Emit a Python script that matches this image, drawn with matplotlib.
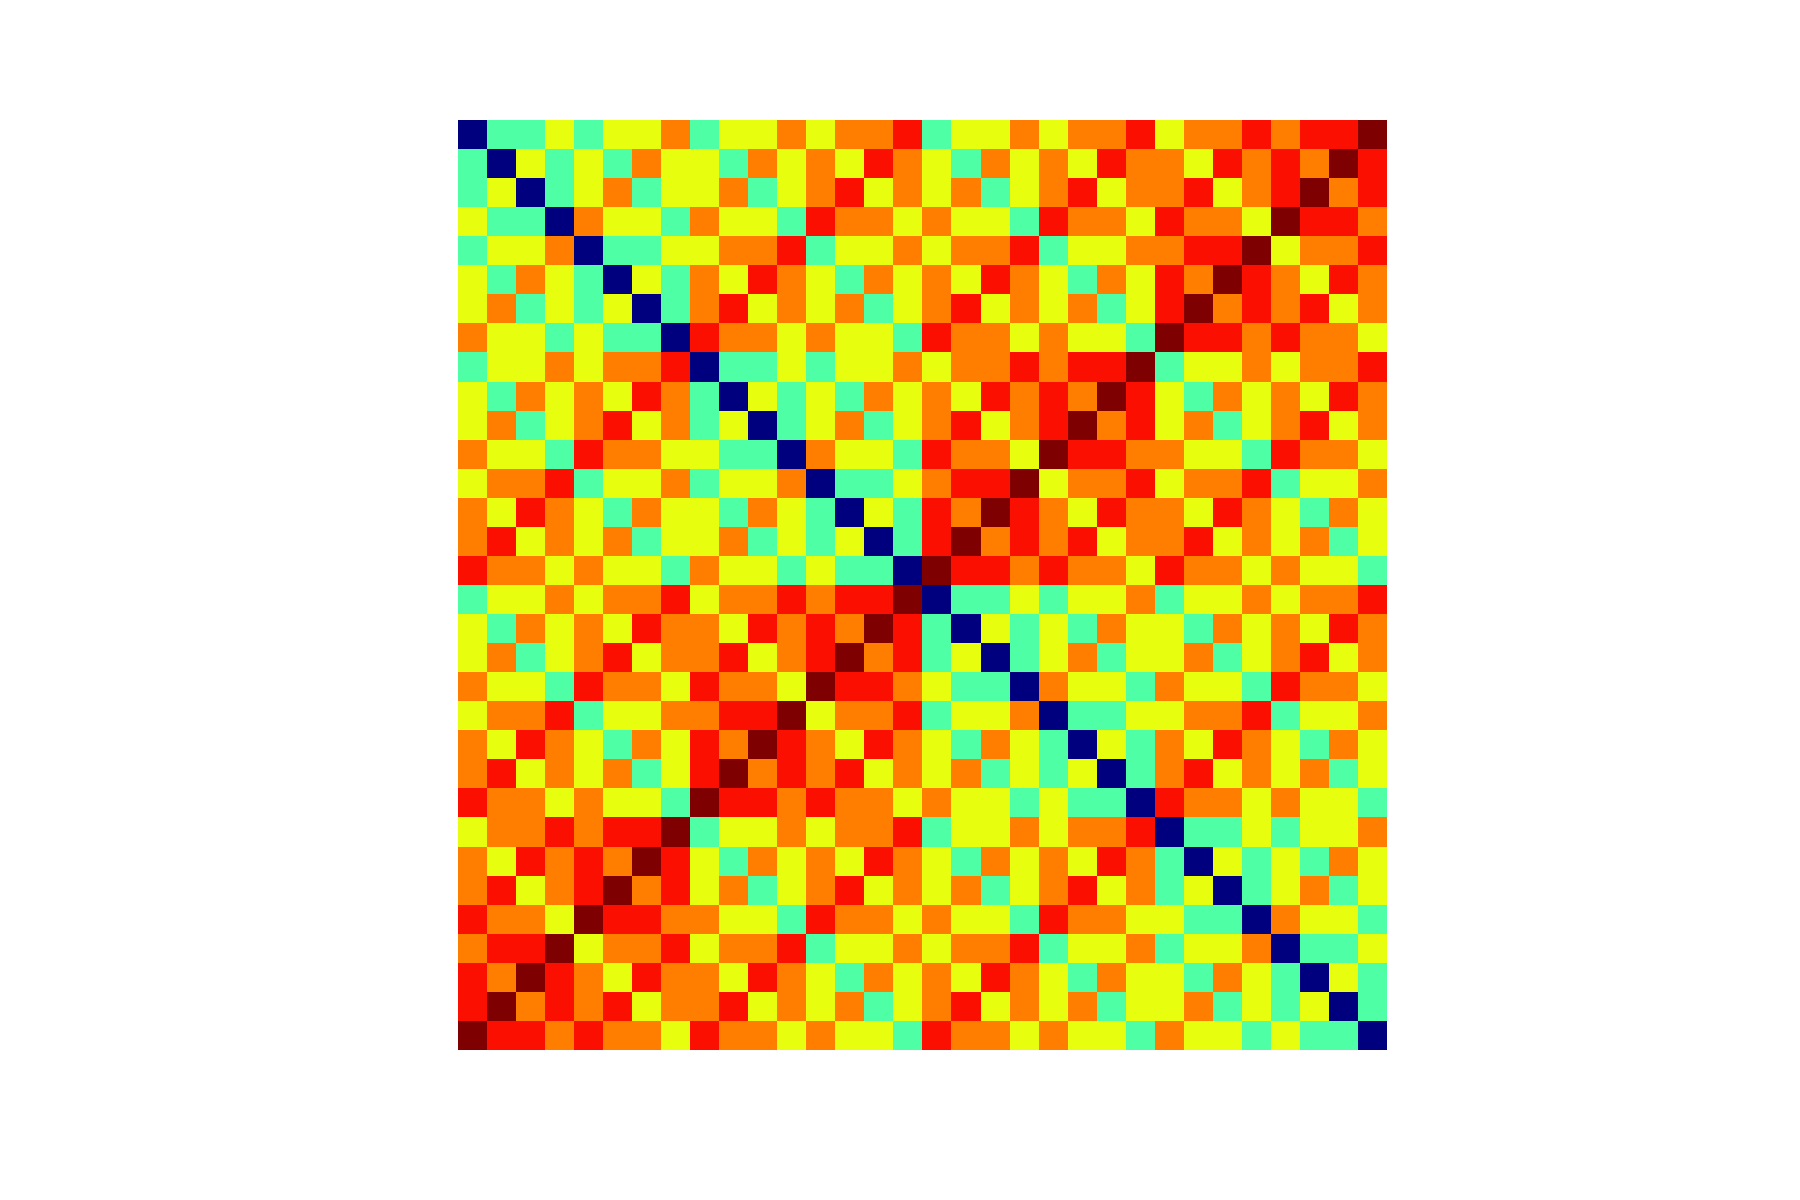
import matplotlib
matplotlib.use("Agg")
import matplotlib.pyplot as plt
import numpy as np

# number of differing bits between row code and column code
rows = [
    "01121223122323341223233423343445",
    "10212132213232432132324332434354",
    "12012312231234232312342334234534",
    "21103221322143323221433243325443",
    "12230112233412232334122334452334",
    "21321021324321323243213243543243",
    "23121201342323123423231245343423",
    "32212110433232214332322154434332",
    "12232334011212232334344512232334",
    "21323243102121323243435421323243",
    "23123423120123123423453423123423",
    "32214332211032214332544332214332",
    "23341223122301123445233423341223",
    "32432132213210214354324332432132",
    "34232312231212014534342334232312",
    "43323221322121105443433243323221",
    "12232334233434450112122312232334",
    "21323243324343541021213221323243",
    "23123423342345341201231223123423",
    "32214332433254432110322132214332",
    "23341223344523341223011223341223",
    "32432132435432432132102132432132",
    "34232312453434232312120134232312",
    "43323221544343323221211043323221",
    "23343445122323341223233401121223",
    "32434354213232432132324310212132",
    "34234534231234232312342312012312",
    "43325443322143323221433221103221",
    "34452334233412232334122312230112",
    "43543243324321323243213221321021",
    "45343423342323123423231223121201",
    "54434332433232214332322132212110",
]

bits = np.array([[int(c) for c in r] for r in rows])
dist = np.sqrt(bits)  # euclidean distance between the binary codes

fig = plt.figure(figsize=(18, 12), dpi=100)
ax = fig.add_axes([458 / 1800, 150 / 1200, 929 / 1800, 930 / 1200])
ax.imshow(dist, cmap="jet", interpolation="nearest", aspect="auto")
ax.axis("off")

fig.savefig("out.png", dpi=100)
